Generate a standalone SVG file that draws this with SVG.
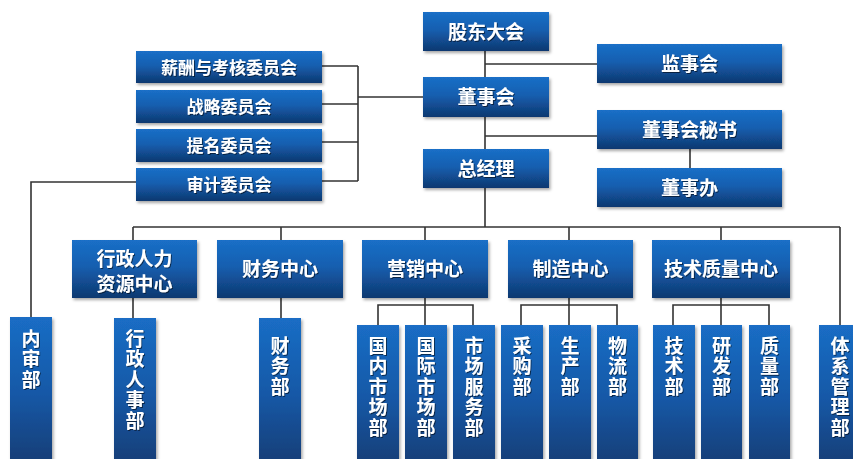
<svg xmlns="http://www.w3.org/2000/svg" width="853" height="459" viewBox="0 0 853 459">
<defs>
<linearGradient id="g" x1="0" y1="0" x2="0" y2="1">
<stop offset="0" stop-color="#1a6fc7"/>
<stop offset="0.45" stop-color="#165fb0"/>
<stop offset="1" stop-color="#0e3870"/>
</linearGradient>
<linearGradient id="gt" x1="0" y1="0" x2="0" y2="1">
<stop offset="0" stop-color="#1a6dc5"/>
<stop offset="0.5" stop-color="#1558a6"/>
<stop offset="1" stop-color="#123a70"/>
</linearGradient>
<filter id="sh" x="-10%" y="-10%" width="130%" height="140%">
<feDropShadow dx="1.5" dy="2" stdDeviation="1.5" flood-color="#000" flood-opacity="0.35"/>
</filter>
<filter id="ts" x="-10%" y="-10%" width="130%" height="130%">
<feDropShadow dx="1" dy="1" stdDeviation="0.6" flood-color="#000" flood-opacity="0.55"/>
</filter>
</defs>
<style>
.b{fill:url(#g);filter:url(#sh)}
.t{fill:url(#gt);filter:url(#sh)}
text{font-family:"Noto Sans CJK SC","Noto Sans",sans-serif;font-weight:700;fill:#fff;text-anchor:middle;filter:url(#ts)}
.f19{font-size:19px}
.f17{font-size:17px}
.v{writing-mode:vertical-rl;text-anchor:start;letter-spacing:1.5px}
.c line,.c polyline{stroke:#333;stroke-width:1.6;fill:none}
</style>
<rect width="853" height="459" fill="#fff"/>
<g class="c" id="connectors">
<line x1="485" y1="51" x2="485" y2="227"/>
<line x1="485" y1="64" x2="597" y2="64"/>
<line x1="485" y1="136" x2="597" y2="136"/>
<line x1="690" y1="149" x2="690" y2="168"/>
<line x1="322" y1="66" x2="358" y2="66"/>
<line x1="322" y1="104" x2="358" y2="104"/>
<line x1="322" y1="142" x2="358" y2="142"/>
<line x1="322" y1="181" x2="358" y2="181"/>
<line x1="358" y1="66" x2="358" y2="181"/>
<line x1="358" y1="97" x2="423" y2="97"/>
<polyline points="136,182 31,182 31,317"/>
<line x1="133" y1="227" x2="840" y2="227"/>
<line x1="133" y1="227" x2="133" y2="240"/>
<line x1="281" y1="227" x2="281" y2="240"/>
<line x1="425" y1="227" x2="425" y2="240"/>
<line x1="569" y1="227" x2="569" y2="240"/>
<line x1="721" y1="227" x2="721" y2="240"/>
<line x1="840" y1="227" x2="840" y2="325"/>
<line x1="133" y1="298" x2="133" y2="318"/>
<line x1="281" y1="298" x2="281" y2="318"/>
<line x1="425" y1="298" x2="425" y2="325"/>
<polyline points="378,325 378,305 473,305 473,325"/>
<line x1="569" y1="298" x2="569" y2="325"/>
<polyline points="521,325 521,305 617,305 617,325"/>
<line x1="721" y1="298" x2="721" y2="325"/>
<polyline points="673,325 673,305 769,305 769,325"/>
</g>
<g id="gudong"><rect class="b" x="423" y="12" width="126" height="39"/><text class="f19" x="486" y="38.5">股东大会</text></g>
<g id="dongshihui"><rect class="b" x="423" y="77" width="126" height="40"/><text class="f19" x="486" y="104">董事会</text></g>
<g id="zongjingli"><rect class="b" x="423" y="149" width="126" height="39"/><text class="f19" x="486" y="175.5">总经理</text></g>
<g id="jianshihui"><rect class="b" x="597" y="44" width="185" height="39"/><text class="f19" x="689.5" y="70.5">监事会</text></g>
<g id="mishu"><rect class="b" x="597" y="110" width="185" height="39"/><text class="f19" x="689.5" y="136.5">董事会秘书</text></g>
<g id="dongshiban"><rect class="b" x="597" y="168" width="185" height="39"/><text class="f19" x="689.5" y="194.5">董事办</text></g>
<g id="xinchou"><rect class="b" x="136" y="51" width="186" height="32"/><text class="f17" x="229" y="73.5">薪酬与考核委员会</text></g>
<g id="zhanlue"><rect class="b" x="136" y="90" width="186" height="33"/><text class="f17" x="229" y="113">战略委员会</text></g>
<g id="timing"><rect class="b" x="136" y="129" width="186" height="33"/><text class="f17" x="229" y="152">提名委员会</text></g>
<g id="shenji"><rect class="b" x="136" y="168" width="186" height="33"/><text class="f17" x="229" y="191">审计委员会</text></g>
<g id="xingzhengzx"><rect class="b" x="72" y="240" width="125" height="58"/><text class="f19" x="134.5" y="266">行政人力</text><text class="f19" x="134.5" y="291">资源中心</text></g>
<g id="caiwuzx"><rect class="b" x="217" y="240" width="126" height="58"/><text class="f19" x="280" y="276">财务中心</text></g>
<g id="yingxiaozx"><rect class="b" x="362" y="240" width="126" height="58"/><text class="f19" x="425" y="276">营销中心</text></g>
<g id="zhizaozx"><rect class="b" x="508" y="240" width="125" height="58"/><text class="f19" x="570.5" y="276">制造中心</text></g>
<g id="jishuzx"><rect class="b" x="652" y="240" width="138" height="58"/><text class="f19" x="721" y="276">技术质量中心</text></g>
<g id="neishen"><rect class="t" x="10" y="317" width="42" height="155"/><text class="f19 v" x="31" y="329">内审部</text></g>
<g id="xingzhengrs"><rect class="t" x="114" y="318" width="42" height="155"/><text class="f19 v" x="135" y="329">行政人事部</text></g>
<g id="caiwubu"><rect class="t" x="259" y="318" width="42" height="155"/><text class="f19 v" x="280" y="336">财务部</text></g>
<g id="guonei"><rect class="t" x="357" y="325" width="42" height="148"/><text class="f19 v" x="378" y="336">国内市场部</text></g>
<g id="guoji"><rect class="t" x="405" y="325" width="42" height="148"/><text class="f19 v" x="426" y="336">国际市场部</text></g>
<g id="shichangfw"><rect class="t" x="453" y="325" width="42" height="148"/><text class="f19 v" x="474" y="336">市场服务部</text></g>
<g id="caigou"><rect class="t" x="501" y="325" width="42" height="148"/><text class="f19 v" x="522" y="336">采购部</text></g>
<g id="shengchan"><rect class="t" x="549" y="325" width="42" height="148"/><text class="f19 v" x="570" y="336">生产部</text></g>
<g id="wuliu"><rect class="t" x="597" y="325" width="41" height="148"/><text class="f19 v" x="617.5" y="336">物流部</text></g>
<g id="jishubu"><rect class="t" x="653" y="325" width="42" height="148"/><text class="f19 v" x="674" y="336">技术部</text></g>
<g id="yanfa"><rect class="t" x="701" y="325" width="41" height="148"/><text class="f19 v" x="721.5" y="336">研发部</text></g>
<g id="zhiliang"><rect class="t" x="749" y="325" width="41" height="148"/><text class="f19 v" x="769.5" y="336">质量部</text></g>
<g id="tixi"><rect class="t" x="819" y="325" width="42" height="148"/><text class="f19 v" x="840" y="336">体系管理部</text></g>
</svg>
